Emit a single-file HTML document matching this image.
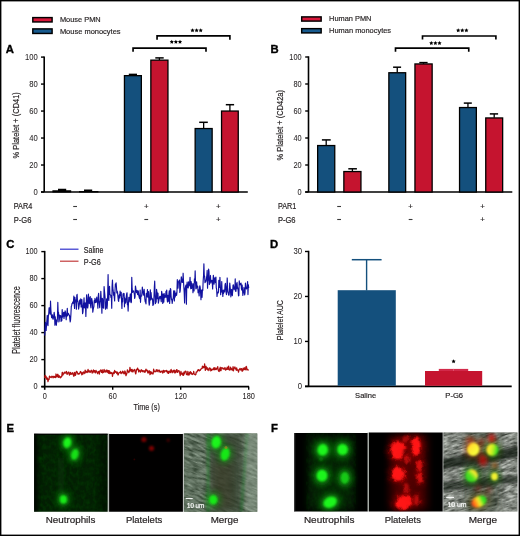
<!DOCTYPE html>
<html><head><meta charset="utf-8"><style>
html,body{margin:0;padding:0;background:#fff;}
body{width:520px;height:536px;overflow:hidden;}
svg{display:block;will-change:transform;}
text{font-family:"Liberation Sans", sans-serif;}
</style></head><body>
<svg width="520" height="536" viewBox="0 0 520 536" font-family='"Liberation Sans", sans-serif'>
<rect x="0" y="0" width="520" height="536" fill="#fff"/>
<text x="5.8" y="53.1" font-size="11.3" text-anchor="start" font-weight="bold" fill="#000" stroke="#000" stroke-width="0.35" >A</text>
<text x="270.4" y="53.1" font-size="11.3" text-anchor="start" font-weight="bold" fill="#000" stroke="#000" stroke-width="0.35" >B</text>
<text x="6.2" y="248.0" font-size="11.3" text-anchor="start" font-weight="bold" fill="#000" stroke="#000" stroke-width="0.35" >C</text>
<text x="270" y="247.8" font-size="11.3" text-anchor="start" font-weight="bold" fill="#000" stroke="#000" stroke-width="0.35" >D</text>
<text x="6.5" y="432.2" font-size="11.3" text-anchor="start" font-weight="bold" fill="#000" stroke="#000" stroke-width="0.35" >E</text>
<text x="270.9" y="432.2" font-size="11.3" text-anchor="start" font-weight="bold" fill="#000" stroke="#000" stroke-width="0.35" >F</text>
<line x1="44.2" y1="56.39999999999999" x2="44.2" y2="192.0" stroke="#000" stroke-width="1.6"/>
<line x1="41.0" y1="192.0" x2="44.2" y2="192.0" stroke="#000" stroke-width="1.4"/>
<text x="37.8" y="194.55" font-size="8.8" text-anchor="end" textLength="4.25" lengthAdjust="spacingAndGlyphs" fill="#231f20" stroke="#231f20" stroke-width="0.05" >0</text>
<line x1="41.0" y1="165.02" x2="44.2" y2="165.02" stroke="#000" stroke-width="1.4"/>
<text x="37.8" y="167.57000000000002" font-size="8.8" text-anchor="end" textLength="8.5" lengthAdjust="spacingAndGlyphs" fill="#231f20" stroke="#231f20" stroke-width="0.05" >20</text>
<line x1="41.0" y1="138.04" x2="44.2" y2="138.04" stroke="#000" stroke-width="1.4"/>
<text x="37.8" y="140.59" font-size="8.8" text-anchor="end" textLength="8.5" lengthAdjust="spacingAndGlyphs" fill="#231f20" stroke="#231f20" stroke-width="0.05" >40</text>
<line x1="41.0" y1="111.06" x2="44.2" y2="111.06" stroke="#000" stroke-width="1.4"/>
<text x="37.8" y="113.61" font-size="8.8" text-anchor="end" textLength="8.5" lengthAdjust="spacingAndGlyphs" fill="#231f20" stroke="#231f20" stroke-width="0.05" >60</text>
<line x1="41.0" y1="84.08" x2="44.2" y2="84.08" stroke="#000" stroke-width="1.4"/>
<text x="37.8" y="86.63" font-size="8.8" text-anchor="end" textLength="8.5" lengthAdjust="spacingAndGlyphs" fill="#231f20" stroke="#231f20" stroke-width="0.05" >80</text>
<line x1="41.0" y1="57.099999999999994" x2="44.2" y2="57.099999999999994" stroke="#000" stroke-width="1.4"/>
<text x="37.8" y="59.64999999999999" font-size="8.8" text-anchor="end" textLength="12.75" lengthAdjust="spacingAndGlyphs" fill="#231f20" stroke="#231f20" stroke-width="0.05" >100</text>
<line x1="41.0" y1="192.0" x2="247.8" y2="192.0" stroke="#000" stroke-width="1.6"/>
<line x1="132.9" y1="75.5" x2="132.9" y2="74.4" stroke="#000" stroke-width="1.3"/>
<line x1="128.8" y1="74.4" x2="137.0" y2="74.4" stroke="#000" stroke-width="1.5"/>
<rect x="124.45" y="75.65" width="16.90" height="116.35" fill="#14507d" stroke="#000" stroke-width="1.3"/>
<line x1="159.39999999999998" y1="60.0" x2="159.39999999999998" y2="57.9" stroke="#000" stroke-width="1.3"/>
<line x1="155.3" y1="57.9" x2="163.7" y2="57.9" stroke="#000" stroke-width="1.5"/>
<rect x="150.85" y="60.15" width="17.10" height="131.85" fill="#c5142f" stroke="#000" stroke-width="1.3"/>
<line x1="203.65" y1="128.4" x2="203.65" y2="122.3" stroke="#000" stroke-width="1.3"/>
<line x1="199.2" y1="122.3" x2="207.8" y2="122.3" stroke="#000" stroke-width="1.5"/>
<rect x="195.15" y="128.55" width="17.00" height="63.45" fill="#14507d" stroke="#000" stroke-width="1.3"/>
<line x1="229.9" y1="110.9" x2="229.9" y2="104.7" stroke="#000" stroke-width="1.3"/>
<line x1="225.8" y1="104.7" x2="234.1" y2="104.7" stroke="#000" stroke-width="1.5"/>
<rect x="221.55" y="111.05" width="16.70" height="80.95" fill="#c5142f" stroke="#000" stroke-width="1.3"/>
<path d="M52.4 192.4 V190.2 H58.0 V188.8 H66.2 V190.2 H71.2 V192.4 Z" fill="#000"/>
<path d="M79.0 192.4 V190.9 H84.0 V189.6 H92.2 V190.9 H98.4 V192.4 Z" fill="#000"/>
<rect x="32.8" y="17.6" width="19.3" height="4.35" fill="#d8173a" stroke="#000" stroke-width="1.45"/>
<rect x="32.8" y="28.9" width="19.3" height="4.55" fill="#175a8e" stroke="#000" stroke-width="1.45"/>
<text x="59.9" y="22.2" font-size="7.8" text-anchor="start" textLength="40.8" lengthAdjust="spacingAndGlyphs" fill="#231f20" stroke="#231f20" stroke-width="0.18" >Mouse PMN</text>
<text x="59.9" y="33.9" font-size="7.8" text-anchor="start" textLength="60.7" lengthAdjust="spacingAndGlyphs" fill="#231f20" stroke="#231f20" stroke-width="0.18" >Mouse monocytes</text>
<path d="M133.05 51.7 V48.1 H206.0 V51.7" fill="none" stroke="#000" stroke-width="1.65" stroke-linejoin="miter"/>
<path d="M157.05 39.8 V35.9 H229.9 V39.8" fill="none" stroke="#000" stroke-width="1.65" stroke-linejoin="miter"/>
<polygon points="171.80,39.80 172.45,41.11 173.89,41.32 172.85,42.34 173.09,43.78 171.80,43.10 170.51,43.78 170.75,42.34 169.71,41.32 171.15,41.11" fill="#000"/>
<polygon points="175.90,39.80 176.55,41.11 177.99,41.32 176.95,42.34 177.19,43.78 175.90,43.10 174.61,43.78 174.85,42.34 173.81,41.32 175.25,41.11" fill="#000"/>
<polygon points="180.00,39.80 180.65,41.11 182.09,41.32 181.05,42.34 181.29,43.78 180.00,43.10 178.71,43.78 178.95,42.34 177.91,41.32 179.35,41.11" fill="#000"/>
<polygon points="192.50,28.20 193.15,29.51 194.59,29.72 193.55,30.74 193.79,32.18 192.50,31.50 191.21,32.18 191.45,30.74 190.41,29.72 191.85,29.51" fill="#000"/>
<polygon points="196.60,28.20 197.25,29.51 198.69,29.72 197.65,30.74 197.89,32.18 196.60,31.50 195.31,32.18 195.55,30.74 194.51,29.72 195.95,29.51" fill="#000"/>
<polygon points="200.70,28.20 201.35,29.51 202.79,29.72 201.75,30.74 201.99,32.18 200.70,31.50 199.41,32.18 199.65,30.74 198.61,29.72 200.05,29.51" fill="#000"/>
<text transform="translate(18.9,125.3) rotate(-90)" font-size="9.1" text-anchor="middle" textLength="66.3" lengthAdjust="spacingAndGlyphs" fill="#231f20" stroke="#231f20" stroke-width="0.18">% Platelet + (CD41)</text>
<text x="13.8" y="209.0" font-size="8.4" text-anchor="start" textLength="18.4" lengthAdjust="spacingAndGlyphs" fill="#231f20" stroke="#231f20" stroke-width="0.18" >PAR4</text>
<text x="13.8" y="222.8" font-size="8.4" text-anchor="start" textLength="17.7" lengthAdjust="spacingAndGlyphs" fill="#231f20" stroke="#231f20" stroke-width="0.18" >P-G6</text>
<line x1="73.19999999999999" y1="206.5" x2="77.0" y2="206.5" stroke="#3a3a3a" stroke-width="1.1"/>
<line x1="73.19999999999999" y1="219.5" x2="77.0" y2="219.5" stroke="#3a3a3a" stroke-width="1.1"/>
<text x="146.25" y="209.4" font-size="7.8" text-anchor="middle" fill="#231f20" stroke="#231f20" stroke-width="0.18" >+</text>
<line x1="144.35" y1="219.5" x2="148.15" y2="219.5" stroke="#3a3a3a" stroke-width="1.1"/>
<text x="218.3" y="209.4" font-size="7.8" text-anchor="middle" fill="#231f20" stroke="#231f20" stroke-width="0.18" >+</text>
<text x="218.3" y="222.4" font-size="7.8" text-anchor="middle" fill="#231f20" stroke="#231f20" stroke-width="0.18" >+</text>
<line x1="308.5" y1="56.3" x2="308.5" y2="192.0" stroke="#000" stroke-width="1.6"/>
<line x1="305.2" y1="192.0" x2="308.5" y2="192.0" stroke="#000" stroke-width="1.4"/>
<text x="301.6" y="194.55" font-size="8.8" text-anchor="end" textLength="4.1" lengthAdjust="spacingAndGlyphs" fill="#231f20" stroke="#231f20" stroke-width="0.05" >0</text>
<line x1="305.2" y1="165.0" x2="308.5" y2="165.0" stroke="#000" stroke-width="1.4"/>
<text x="301.6" y="167.55" font-size="8.8" text-anchor="end" textLength="8.2" lengthAdjust="spacingAndGlyphs" fill="#231f20" stroke="#231f20" stroke-width="0.05" >20</text>
<line x1="305.2" y1="138.0" x2="308.5" y2="138.0" stroke="#000" stroke-width="1.4"/>
<text x="301.6" y="140.55" font-size="8.8" text-anchor="end" textLength="8.2" lengthAdjust="spacingAndGlyphs" fill="#231f20" stroke="#231f20" stroke-width="0.05" >40</text>
<line x1="305.2" y1="111.0" x2="308.5" y2="111.0" stroke="#000" stroke-width="1.4"/>
<text x="301.6" y="113.55" font-size="8.8" text-anchor="end" textLength="8.2" lengthAdjust="spacingAndGlyphs" fill="#231f20" stroke="#231f20" stroke-width="0.05" >60</text>
<line x1="305.2" y1="84.0" x2="308.5" y2="84.0" stroke="#000" stroke-width="1.4"/>
<text x="301.6" y="86.55" font-size="8.8" text-anchor="end" textLength="8.2" lengthAdjust="spacingAndGlyphs" fill="#231f20" stroke="#231f20" stroke-width="0.05" >80</text>
<line x1="305.2" y1="57.0" x2="308.5" y2="57.0" stroke="#000" stroke-width="1.4"/>
<text x="301.6" y="59.55" font-size="8.8" text-anchor="end" textLength="12.3" lengthAdjust="spacingAndGlyphs" fill="#231f20" stroke="#231f20" stroke-width="0.05" >100</text>
<line x1="305.2" y1="192.0" x2="512.3" y2="192.0" stroke="#000" stroke-width="1.6"/>
<line x1="326.2" y1="145.4" x2="326.2" y2="139.9" stroke="#000" stroke-width="1.3"/>
<line x1="321.9" y1="139.9" x2="330.7" y2="139.9" stroke="#000" stroke-width="1.5"/>
<rect x="317.65" y="145.55" width="17.10" height="46.45" fill="#14507d" stroke="#000" stroke-width="1.3"/>
<line x1="352.4" y1="171.4" x2="352.4" y2="168.8" stroke="#000" stroke-width="1.3"/>
<line x1="348.3" y1="168.8" x2="356.9" y2="168.8" stroke="#000" stroke-width="1.5"/>
<rect x="343.85" y="171.55" width="17.10" height="20.45" fill="#c5142f" stroke="#000" stroke-width="1.3"/>
<line x1="397.25" y1="72.6" x2="397.25" y2="67.2" stroke="#000" stroke-width="1.3"/>
<line x1="393.1" y1="67.2" x2="401.1" y2="67.2" stroke="#000" stroke-width="1.5"/>
<rect x="388.85" y="72.75" width="16.80" height="119.25" fill="#14507d" stroke="#000" stroke-width="1.3"/>
<line x1="423.55" y1="63.8" x2="423.55" y2="62.6" stroke="#000" stroke-width="1.3"/>
<line x1="419.3" y1="62.6" x2="427.6" y2="62.6" stroke="#000" stroke-width="1.5"/>
<rect x="414.95" y="63.95" width="17.20" height="128.05" fill="#c5142f" stroke="#000" stroke-width="1.3"/>
<line x1="467.95" y1="107.4" x2="467.95" y2="103.1" stroke="#000" stroke-width="1.3"/>
<line x1="463.8" y1="103.1" x2="471.8" y2="103.1" stroke="#000" stroke-width="1.5"/>
<rect x="459.55" y="107.55" width="16.80" height="84.45" fill="#14507d" stroke="#000" stroke-width="1.3"/>
<line x1="494.20000000000005" y1="117.8" x2="494.20000000000005" y2="113.9" stroke="#000" stroke-width="1.3"/>
<line x1="489.8" y1="113.9" x2="498.1" y2="113.9" stroke="#000" stroke-width="1.5"/>
<rect x="485.75" y="117.95" width="16.90" height="74.05" fill="#c5142f" stroke="#000" stroke-width="1.3"/>
<rect x="301.7" y="16.9" width="19.45" height="4.2" fill="#d8173a" stroke="#000" stroke-width="1.45"/>
<rect x="301.7" y="28.65" width="19.45" height="4.25" fill="#175a8e" stroke="#000" stroke-width="1.45"/>
<text x="329.1" y="21.3" font-size="7.8" text-anchor="start" textLength="42.3" lengthAdjust="spacingAndGlyphs" fill="#231f20" stroke="#231f20" stroke-width="0.18" >Human PMN</text>
<text x="329.1" y="33.0" font-size="7.8" text-anchor="start" textLength="62" lengthAdjust="spacingAndGlyphs" fill="#231f20" stroke="#231f20" stroke-width="0.18" >Human monocytes</text>
<path d="M395.5 51.7 V48.05 H468.75 V51.7" fill="none" stroke="#000" stroke-width="1.65" stroke-linejoin="miter"/>
<path d="M422.5 39.6 V36.0 H495.9 V39.6" fill="none" stroke="#000" stroke-width="1.65" stroke-linejoin="miter"/>
<polygon points="431.30,40.90 431.95,42.21 433.39,42.42 432.35,43.44 432.59,44.88 431.30,44.20 430.01,44.88 430.25,43.44 429.21,42.42 430.65,42.21" fill="#000"/>
<polygon points="435.40,40.90 436.05,42.21 437.49,42.42 436.45,43.44 436.69,44.88 435.40,44.20 434.11,44.88 434.35,43.44 433.31,42.42 434.75,42.21" fill="#000"/>
<polygon points="439.50,40.90 440.15,42.21 441.59,42.42 440.55,43.44 440.79,44.88 439.50,44.20 438.21,44.88 438.45,43.44 437.41,42.42 438.85,42.21" fill="#000"/>
<polygon points="458.20,28.30 458.85,29.61 460.29,29.82 459.25,30.84 459.49,32.28 458.20,31.60 456.91,32.28 457.15,30.84 456.11,29.82 457.55,29.61" fill="#000"/>
<polygon points="462.30,28.30 462.95,29.61 464.39,29.82 463.35,30.84 463.59,32.28 462.30,31.60 461.01,32.28 461.25,30.84 460.21,29.82 461.65,29.61" fill="#000"/>
<polygon points="466.40,28.30 467.05,29.61 468.49,29.82 467.45,30.84 467.69,32.28 466.40,31.60 465.11,32.28 465.35,30.84 464.31,29.82 465.75,29.61" fill="#000"/>
<text transform="translate(282.6,125.2) rotate(-90)" font-size="9.1" text-anchor="middle" textLength="70.4" lengthAdjust="spacingAndGlyphs" fill="#231f20" stroke="#231f20" stroke-width="0.18">% Platelet + (CD42a)</text>
<text x="277.9" y="209.0" font-size="8.4" text-anchor="start" textLength="18.3" lengthAdjust="spacingAndGlyphs" fill="#231f20" stroke="#231f20" stroke-width="0.18" >PAR1</text>
<text x="277.9" y="222.8" font-size="8.4" text-anchor="start" textLength="17.7" lengthAdjust="spacingAndGlyphs" fill="#231f20" stroke="#231f20" stroke-width="0.18" >P-G6</text>
<line x1="337.20000000000005" y1="206.5" x2="341.0" y2="206.5" stroke="#3a3a3a" stroke-width="1.1"/>
<line x1="337.20000000000005" y1="219.5" x2="341.0" y2="219.5" stroke="#3a3a3a" stroke-width="1.1"/>
<text x="410.6" y="209.4" font-size="7.8" text-anchor="middle" fill="#231f20" stroke="#231f20" stroke-width="0.18" >+</text>
<line x1="408.70000000000005" y1="219.5" x2="412.5" y2="219.5" stroke="#3a3a3a" stroke-width="1.1"/>
<text x="482.6" y="209.4" font-size="7.8" text-anchor="middle" fill="#231f20" stroke="#231f20" stroke-width="0.18" >+</text>
<text x="482.6" y="222.4" font-size="7.8" text-anchor="middle" fill="#231f20" stroke="#231f20" stroke-width="0.18" >+</text>
<line x1="44.7" y1="250.90000000000003" x2="44.7" y2="389.8" stroke="#000" stroke-width="1.6"/>
<line x1="41.300000000000004" y1="386.6" x2="44.7" y2="386.6" stroke="#000" stroke-width="1.4"/>
<text x="37.7" y="389.15000000000003" font-size="8.8" text-anchor="end" textLength="4.1" lengthAdjust="spacingAndGlyphs" fill="#231f20" stroke="#231f20" stroke-width="0.05" >0</text>
<line x1="41.300000000000004" y1="359.6" x2="44.7" y2="359.6" stroke="#000" stroke-width="1.4"/>
<text x="37.7" y="362.15000000000003" font-size="8.8" text-anchor="end" textLength="8.2" lengthAdjust="spacingAndGlyphs" fill="#231f20" stroke="#231f20" stroke-width="0.05" >20</text>
<line x1="41.300000000000004" y1="332.6" x2="44.7" y2="332.6" stroke="#000" stroke-width="1.4"/>
<text x="37.7" y="335.15000000000003" font-size="8.8" text-anchor="end" textLength="8.2" lengthAdjust="spacingAndGlyphs" fill="#231f20" stroke="#231f20" stroke-width="0.05" >40</text>
<line x1="41.300000000000004" y1="305.6" x2="44.7" y2="305.6" stroke="#000" stroke-width="1.4"/>
<text x="37.7" y="308.15000000000003" font-size="8.8" text-anchor="end" textLength="8.2" lengthAdjust="spacingAndGlyphs" fill="#231f20" stroke="#231f20" stroke-width="0.05" >60</text>
<line x1="41.300000000000004" y1="278.6" x2="44.7" y2="278.6" stroke="#000" stroke-width="1.4"/>
<text x="37.7" y="281.15000000000003" font-size="8.8" text-anchor="end" textLength="8.2" lengthAdjust="spacingAndGlyphs" fill="#231f20" stroke="#231f20" stroke-width="0.05" >80</text>
<line x1="41.300000000000004" y1="251.60000000000002" x2="44.7" y2="251.60000000000002" stroke="#000" stroke-width="1.4"/>
<text x="37.7" y="254.15000000000003" font-size="8.8" text-anchor="end" textLength="12.3" lengthAdjust="spacingAndGlyphs" fill="#231f20" stroke="#231f20" stroke-width="0.05" >100</text>
<line x1="41.300000000000004" y1="386.6" x2="249.0" y2="386.6" stroke="#000" stroke-width="1.6"/>
<line x1="112.7" y1="386.6" x2="112.7" y2="389.8" stroke="#000" stroke-width="1.4"/>
<line x1="180.7" y1="386.6" x2="180.7" y2="389.8" stroke="#000" stroke-width="1.4"/>
<line x1="248.7" y1="386.6" x2="248.7" y2="389.8" stroke="#000" stroke-width="1.4"/>
<text x="44.7" y="398.5" font-size="8.8" text-anchor="middle" textLength="4.1" lengthAdjust="spacingAndGlyphs" fill="#231f20" stroke="#231f20" stroke-width="0.05" >0</text>
<text x="112.7" y="398.5" font-size="8.8" text-anchor="middle" textLength="8.2" lengthAdjust="spacingAndGlyphs" fill="#231f20" stroke="#231f20" stroke-width="0.05" >60</text>
<text x="180.7" y="398.5" font-size="8.8" text-anchor="middle" textLength="12.3" lengthAdjust="spacingAndGlyphs" fill="#231f20" stroke="#231f20" stroke-width="0.05" >120</text>
<text x="248.7" y="398.5" font-size="8.8" text-anchor="middle" textLength="12.3" lengthAdjust="spacingAndGlyphs" fill="#231f20" stroke="#231f20" stroke-width="0.05" >180</text>
<text x="146.65" y="409.6" font-size="9" text-anchor="middle" textLength="26.3" lengthAdjust="spacingAndGlyphs" fill="#231f20" stroke="#231f20" stroke-width="0.18" >Time (s)</text>
<text transform="translate(19.6,320.0) rotate(-90)" font-size="10" text-anchor="middle" textLength="67.6" lengthAdjust="spacingAndGlyphs" fill="#231f20" stroke="#231f20" stroke-width="0.18">Platelet fluorescence</text>
<line x1="60" y1="249.2" x2="78.5" y2="249.2" stroke="#3333cc" stroke-width="1.2"/>
<line x1="60" y1="261.2" x2="78.5" y2="261.2" stroke="#c23b3b" stroke-width="1.2"/>
<text x="83.8" y="252.6" font-size="8.3" text-anchor="start" textLength="19.6" lengthAdjust="spacingAndGlyphs" fill="#231f20" stroke="#231f20" stroke-width="0.18" >Saline</text>
<text x="83.8" y="264.6" font-size="8.3" text-anchor="start" textLength="17" lengthAdjust="spacingAndGlyphs" fill="#231f20" stroke="#231f20" stroke-width="0.18" >P-G6</text>
<path d="M44.70 335.52 L45.06 328.41 L45.43 322.43 L45.79 326.54 L46.16 330.51 L46.52 325.02 L46.89 320.23 L47.25 315.22 L47.61 323.61 L47.98 325.75 L48.34 316.49 L48.71 314.05 L49.07 307.72 L49.44 307.84 L49.80 312.45 L50.16 314.17 L50.53 301.17 L50.89 309.94 L51.26 314.39 L51.62 317.69 L51.99 314.71 L52.35 314.80 L52.71 318.29 L53.08 319.26 L53.44 317.88 L53.81 315.13 L54.17 312.25 L54.54 315.25 L54.90 325.13 L55.26 316.71 L55.63 323.90 L55.99 320.31 L56.36 325.19 L56.72 319.85 L57.09 321.82 L57.45 317.83 L57.81 302.44 L58.18 313.18 L58.54 312.29 L58.91 321.94 L59.27 320.06 L59.64 315.11 L60.00 317.07 L60.36 315.51 L60.73 316.25 L61.09 321.54 L61.46 315.90 L61.82 320.50 L62.19 309.54 L62.55 317.14 L62.91 313.93 L63.28 316.09 L63.64 312.35 L64.01 318.34 L64.37 312.77 L64.74 316.23 L65.10 310.88 L65.46 312.18 L65.83 314.77 L66.19 319.76 L66.56 314.12 L66.92 313.79 L67.29 308.28 L67.65 315.87 L68.01 313.85 L68.38 313.44 L68.74 314.32 L69.11 314.91 L69.47 315.18 L69.84 318.83 L70.20 321.81 L70.56 319.85 L70.93 313.95 L71.29 306.45 L71.66 305.44 L72.02 303.57 L72.39 303.06 L72.75 302.06 L73.11 303.29 L73.48 301.37 L73.84 296.19 L74.21 304.28 L74.57 308.39 L74.94 297.44 L75.30 302.03 L75.66 300.07 L76.03 299.93 L76.39 309.11 L76.76 295.48 L77.12 294.41 L77.49 301.43 L77.85 300.90 L78.21 303.61 L78.58 309.06 L78.94 307.15 L79.31 304.35 L79.67 300.10 L80.04 300.70 L80.40 303.86 L80.76 298.86 L81.13 307.07 L81.49 302.40 L81.86 299.54 L82.22 305.12 L82.59 313.68 L82.95 312.18 L83.31 306.49 L83.68 303.44 L84.04 297.85 L84.41 307.88 L84.77 306.28 L85.14 302.82 L85.50 305.49 L85.86 316.44 L86.23 305.15 L86.59 294.85 L86.96 297.77 L87.32 307.46 L87.69 308.05 L88.05 305.32 L88.41 294.09 L88.78 299.31 L89.14 303.19 L89.51 297.73 L89.87 303.61 L90.24 296.46 L90.60 306.00 L90.96 307.90 L91.33 302.98 L91.69 298.28 L92.06 300.40 L92.42 302.44 L92.79 312.21 L93.15 309.60 L93.51 307.89 L93.88 306.57 L94.24 300.57 L94.61 302.62 L94.97 298.26 L95.34 300.18 L95.70 302.67 L96.06 301.34 L96.43 299.52 L96.79 297.00 L97.16 302.38 L97.52 302.87 L97.89 308.20 L98.25 296.18 L98.61 293.28 L98.98 299.89 L99.34 303.25 L99.71 307.73 L100.07 302.62 L100.44 300.93 L100.80 291.35 L101.16 297.36 L101.53 303.79 L101.89 313.21 L102.26 298.23 L102.62 299.21 L102.99 307.64 L103.35 301.84 L103.71 308.18 L104.08 286.61 L104.44 290.85 L104.81 294.51 L105.17 298.92 L105.54 309.14 L105.90 302.84 L106.26 307.39 L106.63 298.76 L106.99 308.60 L107.36 304.78 L107.72 292.92 L108.09 274.55 L108.45 296.63 L108.81 300.38 L109.18 289.52 L109.54 286.33 L109.91 293.95 L110.27 294.90 L110.64 295.18 L111.00 297.54 L111.36 295.91 L111.73 308.30 L112.09 286.33 L112.46 279.98 L112.82 287.92 L113.19 290.52 L113.55 295.19 L113.91 292.65 L114.28 297.35 L114.64 300.89 L115.01 290.59 L115.37 284.09 L115.74 284.91 L116.10 282.88 L116.46 287.23 L116.83 292.99 L117.19 291.03 L117.56 292.55 L117.92 296.39 L118.29 300.21 L118.65 301.41 L119.01 295.98 L119.38 294.55 L119.74 297.90 L120.11 291.08 L120.47 295.68 L120.84 295.40 L121.20 292.22 L121.56 300.63 L121.93 308.42 L122.29 298.27 L122.66 301.84 L123.02 293.73 L123.39 295.76 L123.75 293.30 L124.11 293.68 L124.48 306.85 L124.84 297.95 L125.21 301.67 L125.57 303.17 L125.94 302.14 L126.30 296.31 L126.66 294.03 L127.03 292.76 L127.39 304.64 L127.76 303.30 L128.12 311.09 L128.49 302.99 L128.85 297.34 L129.21 301.90 L129.58 298.64 L129.94 297.73 L130.31 293.89 L130.67 301.13 L131.04 302.74 L131.40 302.01 L131.76 277.25 L132.13 288.01 L132.49 292.38 L132.86 291.33 L133.22 291.13 L133.59 290.88 L133.95 292.69 L134.31 293.81 L134.68 298.38 L135.04 296.93 L135.41 285.97 L135.77 287.80 L136.14 290.51 L136.50 292.61 L136.86 291.97 L137.23 290.44 L137.59 294.57 L137.96 291.94 L138.32 290.95 L138.69 295.19 L139.05 296.65 L139.41 298.05 L139.78 298.77 L140.14 290.02 L140.51 302.31 L140.87 296.39 L141.24 296.19 L141.60 296.17 L141.96 292.87 L142.33 287.15 L142.69 290.27 L143.06 292.19 L143.42 295.08 L143.79 294.12 L144.15 289.36 L144.51 294.23 L144.88 299.45 L145.24 301.86 L145.61 302.16 L145.97 303.86 L146.34 293.24 L146.70 293.78 L147.06 296.55 L147.43 289.60 L147.79 297.25 L148.16 293.08 L148.52 291.62 L148.89 301.97 L149.25 305.14 L149.61 303.22 L149.98 294.23 L150.34 289.76 L150.71 300.02 L151.07 292.66 L151.44 297.04 L151.80 298.41 L152.16 299.56 L152.53 298.88 L152.89 305.54 L153.26 303.81 L153.62 304.38 L153.99 296.64 L154.35 286.99 L154.71 281.16 L155.08 293.51 L155.44 303.58 L155.81 300.58 L156.17 302.14 L156.54 289.21 L156.90 291.82 L157.26 298.58 L157.63 292.99 L157.99 293.16 L158.36 303.14 L158.72 301.13 L159.09 299.20 L159.45 297.45 L159.81 296.41 L160.18 298.28 L160.54 296.42 L160.91 299.44 L161.27 301.79 L161.64 291.43 L162.00 293.64 L162.36 293.96 L162.73 303.40 L163.09 299.69 L163.46 294.06 L163.82 302.08 L164.19 293.53 L164.55 297.80 L164.91 295.46 L165.28 297.23 L165.64 296.16 L166.01 291.34 L166.37 297.28 L166.74 290.04 L167.10 298.65 L167.46 301.94 L167.83 295.39 L168.19 301.60 L168.56 300.28 L168.92 294.04 L169.29 290.78 L169.65 303.53 L170.01 296.89 L170.38 288.59 L170.74 289.27 L171.11 296.08 L171.47 299.79 L171.84 299.52 L172.20 303.38 L172.56 300.48 L172.93 298.95 L173.29 297.69 L173.66 290.73 L174.02 294.64 L174.39 300.97 L174.75 290.86 L175.11 297.09 L175.48 295.60 L175.84 293.23 L176.21 293.00 L176.57 295.47 L176.94 292.26 L177.30 279.65 L177.66 288.19 L178.03 288.10 L178.39 281.81 L178.76 281.41 L179.12 280.90 L179.49 280.00 L179.85 292.41 L180.21 290.76 L180.58 285.41 L180.94 281.80 L181.31 276.76 L181.67 278.73 L182.04 282.27 L182.40 281.75 L182.76 282.44 L183.13 273.20 L183.49 281.08 L183.86 287.16 L184.22 292.67 L184.59 302.90 L184.95 289.61 L185.31 287.48 L185.68 286.05 L186.04 285.02 L186.41 304.25 L186.77 285.80 L187.14 282.19 L187.50 287.76 L187.86 286.06 L188.23 287.99 L188.59 281.86 L188.96 286.02 L189.32 285.10 L189.69 282.49 L190.05 277.33 L190.41 285.63 L190.78 288.80 L191.14 281.69 L191.51 288.38 L191.87 283.24 L192.24 286.39 L192.60 285.20 L192.96 292.72 L193.33 283.73 L193.69 287.35 L194.06 290.88 L194.42 278.88 L194.79 282.16 L195.15 270.91 L195.51 282.18 L195.88 288.83 L196.24 288.74 L196.61 281.83 L196.97 287.25 L197.34 286.69 L197.70 286.21 L198.06 292.62 L198.43 289.77 L198.79 291.82 L199.16 295.84 L199.52 287.33 L199.89 285.72 L200.25 287.95 L200.61 293.13 L200.98 299.73 L201.34 290.27 L201.71 290.11 L202.07 297.34 L202.44 289.65 L202.80 290.43 L203.16 280.77 L203.53 276.17 L203.89 263.75 L204.26 275.48 L204.62 276.17 L204.99 282.69 L205.35 281.48 L205.71 281.92 L206.08 280.74 L206.44 278.10 L206.81 275.75 L207.17 270.42 L207.54 288.15 L207.90 279.88 L208.26 280.18 L208.63 268.96 L208.99 271.79 L209.36 284.55 L209.72 278.98 L210.09 281.59 L210.45 275.45 L210.81 283.06 L211.18 281.00 L211.54 280.56 L211.91 280.30 L212.27 282.50 L212.64 288.95 L213.00 280.38 L213.36 275.37 L213.73 278.80 L214.09 284.23 L214.46 280.29 L214.82 277.83 L215.19 281.46 L215.55 282.56 L215.91 277.12 L216.28 287.85 L216.64 289.26 L217.01 296.51 L217.37 292.94 L217.74 292.11 L218.10 292.93 L218.46 292.01 L218.83 280.36 L219.19 286.07 L219.56 287.47 L219.92 277.33 L220.29 284.71 L220.65 294.66 L221.01 287.90 L221.38 292.07 L221.74 281.56 L222.11 291.71 L222.47 291.75 L222.84 296.53 L223.20 290.20 L223.56 293.47 L223.93 290.14 L224.29 290.63 L224.66 291.92 L225.02 285.22 L225.39 283.30 L225.75 286.79 L226.11 292.30 L226.48 294.72 L226.84 289.31 L227.21 277.95 L227.57 287.63 L227.94 292.04 L228.30 292.97 L228.66 295.08 L229.03 295.16 L229.39 291.67 L229.76 283.11 L230.12 287.13 L230.49 290.69 L230.85 296.83 L231.21 290.29 L231.58 289.44 L231.94 294.69 L232.31 295.64 L232.67 291.13 L233.04 284.95 L233.40 284.87 L233.76 286.79 L234.13 289.80 L234.49 287.76 L234.86 288.68 L235.22 278.93 L235.59 291.19 L235.95 291.36 L236.31 283.91 L236.68 288.73 L237.04 282.42 L237.41 287.27 L237.77 287.87 L238.14 290.43 L238.50 295.83 L238.86 295.58 L239.23 280.89 L239.59 283.70 L239.96 284.73 L240.32 283.45 L240.69 284.84 L241.05 283.18 L241.41 288.61 L241.78 290.05 L242.14 284.95 L242.51 289.55 L242.87 295.44 L243.24 292.14 L243.60 292.62 L243.96 287.45 L244.33 292.03 L244.69 294.98 L245.06 292.53 L245.42 283.14 L245.79 287.69 L246.15 288.10 L246.51 288.92 L246.88 287.87 L247.24 284.65 L247.61 281.55 L247.97 294.58 L248.34 284.70 L248.70 288.01" fill="none" stroke="#1212a0" stroke-width="1.15" stroke-linejoin="round"/>
<path d="M44.70 378.17 L45.06 375.48 L45.43 377.55 L45.79 375.99 L46.16 376.68 L46.52 379.14 L46.89 378.34 L47.25 377.94 L47.61 378.85 L47.98 381.60 L48.34 380.00 L48.71 378.99 L49.07 379.38 L49.44 376.02 L49.80 376.94 L50.16 377.08 L50.53 376.90 L50.89 377.43 L51.26 377.57 L51.62 376.67 L51.99 376.15 L52.35 376.87 L52.71 376.63 L53.08 377.95 L53.44 376.27 L53.81 377.13 L54.17 376.34 L54.54 377.31 L54.90 377.16 L55.26 376.32 L55.63 377.60 L55.99 374.00 L56.36 375.62 L56.72 376.13 L57.09 376.99 L57.45 374.73 L57.81 374.26 L58.18 375.29 L58.54 377.39 L58.91 377.08 L59.27 375.76 L59.64 376.58 L60.00 377.54 L60.36 377.82 L60.73 377.45 L61.09 376.48 L61.46 376.90 L61.82 376.17 L62.19 372.60 L62.55 372.36 L62.91 375.05 L63.28 374.09 L63.64 373.81 L64.01 373.69 L64.37 372.11 L64.74 372.84 L65.10 372.79 L65.46 373.05 L65.83 372.90 L66.19 371.44 L66.56 371.63 L66.92 374.05 L67.29 373.88 L67.65 374.20 L68.01 372.55 L68.38 372.69 L68.74 372.02 L69.11 372.84 L69.47 375.08 L69.84 373.21 L70.20 372.89 L70.56 372.49 L70.93 374.32 L71.29 373.38 L71.66 373.93 L72.02 374.09 L72.39 373.02 L72.75 372.69 L73.11 373.94 L73.48 375.20 L73.84 376.40 L74.21 374.71 L74.57 372.37 L74.94 372.94 L75.30 375.48 L75.66 374.75 L76.03 373.14 L76.39 371.31 L76.76 371.30 L77.12 372.16 L77.49 372.61 L77.85 374.10 L78.21 373.89 L78.58 373.70 L78.94 374.11 L79.31 373.34 L79.67 373.59 L80.04 372.88 L80.40 371.49 L80.76 371.82 L81.13 372.26 L81.49 373.11 L81.86 374.74 L82.22 373.72 L82.59 372.70 L82.95 374.07 L83.31 371.99 L83.68 372.88 L84.04 372.23 L84.41 372.64 L84.77 373.61 L85.14 370.16 L85.50 372.46 L85.86 370.97 L86.23 372.12 L86.59 371.56 L86.96 372.56 L87.32 372.44 L87.69 370.96 L88.05 369.41 L88.41 371.96 L88.78 371.80 L89.14 370.74 L89.51 372.13 L89.87 371.10 L90.24 372.40 L90.60 371.29 L90.96 371.14 L91.33 370.26 L91.69 370.91 L92.06 372.79 L92.42 371.34 L92.79 372.82 L93.15 371.26 L93.51 369.97 L93.88 370.57 L94.24 371.99 L94.61 370.54 L94.97 371.20 L95.34 372.93 L95.70 372.49 L96.06 370.44 L96.43 371.68 L96.79 371.60 L97.16 372.07 L97.52 373.67 L97.89 372.88 L98.25 371.70 L98.61 371.51 L98.98 371.87 L99.34 374.09 L99.71 371.13 L100.07 370.79 L100.44 370.36 L100.80 369.93 L101.16 371.68 L101.53 372.38 L101.89 371.60 L102.26 369.90 L102.62 372.97 L102.99 372.18 L103.35 372.37 L103.71 370.95 L104.08 369.45 L104.44 370.80 L104.81 372.12 L105.17 371.02 L105.54 370.95 L105.90 372.19 L106.26 370.13 L106.63 371.13 L106.99 370.23 L107.36 372.22 L107.72 370.31 L108.09 372.58 L108.45 370.67 L108.81 373.29 L109.18 370.73 L109.54 371.96 L109.91 373.71 L110.27 372.90 L110.64 372.15 L111.00 373.45 L111.36 373.41 L111.73 372.68 L112.09 373.03 L112.46 376.37 L112.82 374.57 L113.19 373.08 L113.55 372.77 L113.91 371.91 L114.28 373.49 L114.64 370.46 L115.01 371.44 L115.37 372.27 L115.74 371.68 L116.10 371.64 L116.46 372.55 L116.83 373.61 L117.19 372.15 L117.56 372.36 L117.92 374.92 L118.29 374.84 L118.65 373.12 L119.01 372.99 L119.38 372.76 L119.74 372.31 L120.11 372.70 L120.47 371.27 L120.84 373.19 L121.20 373.56 L121.56 372.89 L121.93 372.23 L122.29 371.99 L122.66 371.16 L123.02 373.03 L123.39 371.82 L123.75 372.21 L124.11 373.96 L124.48 373.51 L124.84 370.97 L125.21 371.61 L125.57 373.16 L125.94 375.71 L126.30 374.68 L126.66 374.04 L127.03 372.81 L127.39 369.82 L127.76 370.41 L128.12 370.86 L128.49 372.14 L128.85 372.59 L129.21 371.46 L129.58 371.20 L129.94 367.37 L130.31 369.95 L130.67 370.96 L131.04 369.39 L131.40 370.07 L131.76 371.69 L132.13 369.47 L132.49 370.54 L132.86 371.97 L133.22 370.63 L133.59 370.05 L133.95 370.78 L134.31 369.89 L134.68 369.50 L135.04 371.24 L135.41 373.04 L135.77 373.95 L136.14 371.79 L136.50 369.68 L136.86 369.30 L137.23 368.78 L137.59 368.13 L137.96 369.94 L138.32 369.36 L138.69 371.99 L139.05 370.40 L139.41 370.25 L139.78 370.74 L140.14 371.27 L140.51 372.17 L140.87 371.10 L141.24 369.55 L141.60 370.88 L141.96 370.31 L142.33 371.45 L142.69 370.81 L143.06 371.98 L143.42 370.85 L143.79 371.17 L144.15 370.70 L144.51 371.56 L144.88 372.44 L145.24 371.80 L145.61 370.15 L145.97 369.08 L146.34 370.82 L146.70 370.14 L147.06 370.11 L147.43 370.58 L147.79 372.91 L148.16 371.68 L148.52 372.80 L148.89 370.91 L149.25 370.85 L149.61 371.11 L149.98 374.68 L150.34 372.44 L150.71 371.77 L151.07 373.80 L151.44 372.07 L151.80 372.61 L152.16 373.14 L152.53 373.77 L152.89 374.02 L153.26 373.26 L153.62 369.03 L153.99 370.67 L154.35 370.96 L154.71 371.77 L155.08 371.77 L155.44 371.50 L155.81 371.62 L156.17 369.90 L156.54 370.68 L156.90 369.74 L157.26 371.69 L157.63 370.08 L157.99 370.68 L158.36 370.16 L158.72 370.90 L159.09 372.01 L159.45 370.14 L159.81 371.40 L160.18 371.53 L160.54 372.36 L160.91 371.43 L161.27 371.79 L161.64 371.17 L162.00 370.92 L162.36 371.96 L162.73 373.05 L163.09 371.39 L163.46 370.37 L163.82 370.30 L164.19 372.27 L164.55 370.97 L164.91 370.82 L165.28 370.88 L165.64 370.74 L166.01 371.51 L166.37 371.16 L166.74 370.29 L167.10 371.57 L167.46 372.97 L167.83 371.95 L168.19 371.31 L168.56 373.33 L168.92 372.67 L169.29 371.11 L169.65 371.44 L170.01 371.27 L170.38 372.68 L170.74 370.77 L171.11 369.28 L171.47 370.94 L171.84 372.01 L172.20 372.80 L172.56 370.82 L172.93 371.07 L173.29 372.12 L173.66 370.27 L174.02 370.20 L174.39 370.35 L174.75 372.95 L175.11 371.94 L175.48 370.85 L175.84 372.52 L176.21 370.69 L176.57 369.60 L176.94 369.71 L177.30 371.63 L177.66 372.46 L178.03 371.10 L178.39 370.82 L178.76 370.67 L179.12 370.83 L179.49 372.47 L179.85 373.48 L180.21 375.53 L180.58 373.47 L180.94 371.26 L181.31 373.53 L181.67 374.23 L182.04 373.23 L182.40 373.23 L182.76 375.12 L183.13 374.99 L183.49 375.37 L183.86 372.11 L184.22 374.10 L184.59 373.01 L184.95 371.53 L185.31 371.12 L185.68 371.51 L186.04 371.41 L186.41 374.48 L186.77 374.45 L187.14 374.85 L187.50 374.51 L187.86 371.27 L188.23 374.94 L188.59 373.63 L188.96 375.18 L189.32 372.87 L189.69 372.23 L190.05 374.00 L190.41 371.74 L190.78 373.23 L191.14 372.35 L191.51 373.16 L191.87 374.35 L192.24 374.52 L192.60 374.29 L192.96 373.44 L193.33 373.72 L193.69 371.39 L194.06 373.46 L194.42 374.28 L194.79 374.53 L195.15 374.46 L195.51 374.95 L195.88 374.41 L196.24 371.99 L196.61 371.98 L196.97 372.02 L197.34 371.26 L197.70 370.06 L198.06 369.98 L198.43 369.58 L198.79 370.69 L199.16 370.49 L199.52 370.77 L199.89 369.91 L200.25 370.22 L200.61 369.62 L200.98 369.01 L201.34 368.66 L201.71 368.40 L202.07 368.35 L202.44 366.18 L202.80 367.10 L203.16 367.88 L203.53 366.60 L203.89 367.39 L204.26 367.40 L204.62 363.92 L204.99 368.02 L205.35 370.48 L205.71 367.66 L206.08 366.24 L206.44 368.96 L206.81 369.14 L207.17 367.59 L207.54 369.94 L207.90 369.50 L208.26 369.77 L208.63 368.82 L208.99 370.50 L209.36 367.95 L209.72 368.36 L210.09 368.06 L210.45 368.69 L210.81 370.87 L211.18 369.45 L211.54 370.36 L211.91 369.22 L212.27 369.86 L212.64 369.53 L213.00 369.36 L213.36 368.30 L213.73 368.01 L214.09 369.83 L214.46 369.31 L214.82 367.56 L215.19 368.08 L215.55 369.57 L215.91 369.36 L216.28 369.54 L216.64 368.21 L217.01 368.79 L217.37 368.60 L217.74 366.56 L218.10 369.83 L218.46 370.42 L218.83 371.38 L219.19 371.51 L219.56 368.91 L219.92 368.75 L220.29 367.25 L220.65 370.70 L221.01 370.56 L221.38 368.01 L221.74 367.69 L222.11 367.76 L222.47 367.79 L222.84 368.71 L223.20 369.04 L223.56 369.09 L223.93 368.24 L224.29 369.07 L224.66 368.80 L225.02 367.50 L225.39 369.90 L225.75 370.21 L226.11 368.89 L226.48 369.39 L226.84 369.43 L227.21 367.01 L227.57 368.10 L227.94 369.33 L228.30 368.07 L228.66 366.16 L229.03 369.51 L229.39 370.04 L229.76 369.35 L230.12 369.96 L230.49 367.12 L230.85 368.04 L231.21 369.32 L231.58 368.75 L231.94 369.97 L232.31 370.13 L232.67 369.42 L233.04 366.74 L233.40 370.95 L233.76 369.33 L234.13 367.84 L234.49 368.06 L234.86 366.85 L235.22 368.08 L235.59 368.78 L235.95 369.29 L236.31 370.23 L236.68 367.83 L237.04 370.15 L237.41 369.71 L237.77 370.01 L238.14 370.39 L238.50 372.05 L238.86 370.57 L239.23 369.57 L239.59 369.26 L239.96 368.42 L240.32 369.25 L240.69 370.02 L241.05 369.23 L241.41 368.61 L241.78 370.12 L242.14 371.25 L242.51 371.05 L242.87 368.75 L243.24 368.12 L243.60 369.97 L243.96 369.45 L244.33 368.51 L244.69 367.71 L245.06 369.61 L245.42 369.74 L245.79 368.00 L246.15 366.39 L246.51 366.87 L246.88 369.90 L247.24 369.09 L247.61 369.66 L247.97 369.58 L248.34 370.21 L248.70 370.20" fill="none" stroke="#b01010" stroke-width="1.25" stroke-linejoin="round"/>
<line x1="308.6" y1="250.79" x2="308.6" y2="386.4" stroke="#000" stroke-width="1.6"/>
<line x1="305.0" y1="386.4" x2="308.6" y2="386.4" stroke="#000" stroke-width="1.4"/>
<text x="302.0" y="388.95" font-size="8.8" text-anchor="end" textLength="4.3" lengthAdjust="spacingAndGlyphs" fill="#231f20" stroke="#231f20" stroke-width="0.05" >0</text>
<line x1="305.0" y1="341.42999999999995" x2="308.6" y2="341.42999999999995" stroke="#000" stroke-width="1.4"/>
<text x="302.0" y="343.97999999999996" font-size="8.8" text-anchor="end" textLength="8.6" lengthAdjust="spacingAndGlyphs" fill="#231f20" stroke="#231f20" stroke-width="0.05" >10</text>
<line x1="305.0" y1="296.46" x2="308.6" y2="296.46" stroke="#000" stroke-width="1.4"/>
<text x="302.0" y="299.01" font-size="8.8" text-anchor="end" textLength="8.6" lengthAdjust="spacingAndGlyphs" fill="#231f20" stroke="#231f20" stroke-width="0.05" >20</text>
<line x1="305.0" y1="251.48999999999998" x2="308.6" y2="251.48999999999998" stroke="#000" stroke-width="1.4"/>
<text x="302.0" y="254.04" font-size="8.8" text-anchor="end" textLength="8.6" lengthAdjust="spacingAndGlyphs" fill="#231f20" stroke="#231f20" stroke-width="0.05" >30</text>
<line x1="305.0" y1="386.4" x2="511.7" y2="386.4" stroke="#000" stroke-width="1.6"/>
<line x1="366.6" y1="290.5" x2="366.6" y2="259.7" stroke="#14507d" stroke-width="1.4"/>
<line x1="351.8" y1="259.7" x2="381.6" y2="259.7" stroke="#14507d" stroke-width="1.5"/>
<rect x="337.7" y="290.2" width="58.1" height="95.60" fill="#14507d"/>
<rect x="438.8" y="368.9" width="29.4" height="2.4" fill="#d22a4a"/>
<line x1="453.5" y1="368.9" x2="453.5" y2="371.2" stroke="#e86a80" stroke-width="0.6"/>
<rect x="425" y="371.0" width="57.2" height="14.80" fill="#c5142f"/>
<polygon points="453.60,359.20 454.25,360.51 455.69,360.72 454.65,361.74 454.89,363.18 453.60,362.50 452.31,363.18 452.55,361.74 451.51,360.72 452.95,360.51" fill="#000"/>
<text transform="translate(283.2,320.2) rotate(-90)" font-size="9.7" text-anchor="middle" textLength="40.2" lengthAdjust="spacingAndGlyphs" fill="#231f20" stroke="#231f20" stroke-width="0.18">Platelet AUC</text>
<text x="365.6" y="398.3" font-size="7.8" text-anchor="middle" textLength="21" lengthAdjust="spacingAndGlyphs" fill="#231f20" stroke="#231f20" stroke-width="0.18" >Saline</text>
<text x="454.2" y="398.3" font-size="7.8" text-anchor="middle" textLength="17.8" lengthAdjust="spacingAndGlyphs" fill="#231f20" stroke="#231f20" stroke-width="0.18" >P-G6</text>
<defs>
<filter id="b05" x="-50%" y="-50%" width="200%" height="200%"><feGaussianBlur stdDeviation="0.6"/></filter>
<filter id="b1" x="-50%" y="-50%" width="200%" height="200%"><feGaussianBlur stdDeviation="1.1"/></filter>
<filter id="b2" x="-50%" y="-50%" width="200%" height="200%"><feGaussianBlur stdDeviation="2.2"/></filter>
<filter id="b3" x="-50%" y="-50%" width="200%" height="200%"><feGaussianBlur stdDeviation="3.2"/></filter>
<filter id="b4" x="-50%" y="-50%" width="200%" height="200%"><feGaussianBlur stdDeviation="4.5"/></filter>
<filter id="dic" x="0" y="0" width="100%" height="100%">
  <feTurbulence type="fractalNoise" baseFrequency="0.06 0.45" numOctaves="2" seed="3" result="n"/>
  <feColorMatrix type="matrix" values="0.5 0.5 0 0 0  0.5 0.5 0 0 0  0.5 0.5 0 0 0  0 0 0 0 1"/>
</filter>
<filter id="grn" x="0" y="0" width="100%" height="100%" color-interpolation-filters="sRGB">
  <feTurbulence type="fractalNoise" baseFrequency="0.3 0.22" numOctaves="2" seed="5"/>
  <feColorMatrix type="matrix" values="0 0 0 0 0  0 0 0 0 0.55  0 0 0 0 0  1.6 0 0 0 -0.55"/>
</filter>
<filter id="dicE" x="0" y="0" width="100%" height="100%" color-interpolation-filters="sRGB">
  <feTurbulence type="fractalNoise" baseFrequency="0.1 0.45" numOctaves="3" seed="11"/>
  <feColorMatrix type="matrix" values="0.6 0 0 0 0.11  0.6 0 0 0 0.14  0.6 0 0 0 0.10  0 0 0 0 1"/>
</filter>
<filter id="dicF" x="0" y="0" width="100%" height="100%" color-interpolation-filters="sRGB">
  <feTurbulence type="fractalNoise" baseFrequency="0.12 0.55" numOctaves="3" seed="4"/>
  <feColorMatrix type="matrix" values="1.1 0 0 0 -0.05  1.1 0 0 0 -0.03  1.1 0 0 0 -0.06  0 0 0 0 1"/>
</filter>
<filter id="irr" x="-10%" y="-10%" width="120%" height="120%" color-interpolation-filters="sRGB">
  <feTurbulence type="fractalNoise" baseFrequency="0.18" numOctaves="2" seed="8" result="t"/>
  <feDisplacementMap in="SourceGraphic" in2="t" scale="5" xChannelSelector="R" yChannelSelector="G"/>
  <feGaussianBlur stdDeviation="0.6"/>
</filter>
<clipPath id="cE1"><rect x="34.1" y="433.6" width="73.5" height="78.1"/></clipPath>
<clipPath id="cE2"><rect x="109.1" y="433.6" width="74" height="78.1"/></clipPath>
<clipPath id="cE3"><rect x="184.1" y="433.4" width="73.1" height="78.3"/></clipPath>
<clipPath id="cF1"><rect x="294.1" y="432.6" width="73.5" height="78.9"/></clipPath>
<clipPath id="cF2"><rect x="369.0" y="432.6" width="73.6" height="78.9"/></clipPath>
<clipPath id="cF3"><rect x="443.6" y="432.6" width="73.8" height="78.9"/></clipPath>
</defs>
<rect x="107.4" y="433.6" width="2" height="78.1" fill="#b8bcb8"/>
<rect x="182.6" y="433.6" width="2" height="78.1" fill="#c0c4c0"/>
<rect x="367.4" y="432.6" width="2" height="78.9" fill="#a8aca8"/>
<rect x="442.2" y="432.6" width="2" height="78.9" fill="#b0b4b0"/>
<g clip-path="url(#cE1)">
<rect x="34" y="434" width="74" height="78" fill="#031e03"/>
<rect x="34" y="434" width="74" height="78" filter="url(#grn)" opacity="0.22"/>
<rect x="28" y="434" width="10" height="78" fill="#000" opacity="0.85" filter="url(#b2)"/>
<rect x="34" y="433" width="74" height="2" fill="#000" opacity="0.8"/>
<rect x="58" y="458" width="6" height="40" fill="#0b3a0b" opacity="0.5" filter="url(#b2)"/>
<rect x="100" y="434" width="10" height="78" fill="#000" opacity="0.4" filter="url(#b3)"/>
<ellipse cx="40.5" cy="458.5" rx="1.8" ry="1.3" fill="#0a5a0a" opacity="0.8" filter="url(#b1)"/>
<ellipse cx="67.3" cy="442.7" rx="7.0" ry="8.4" fill="#0c9a0c" opacity="0.7" filter="url(#b3)" transform="rotate(10 67.3 442.7)"/>
<ellipse cx="67.3" cy="442.7" rx="4.0" ry="5.4" fill="#1cf51c" opacity="1" filter="url(#b1)" transform="rotate(10 67.3 442.7)"/>
<ellipse cx="74.8" cy="454.4" rx="6.800000000000001" ry="8.8" fill="#0c9a0c" opacity="0.7" filter="url(#b3)" transform="rotate(15 74.8 454.4)"/>
<ellipse cx="74.8" cy="454.4" rx="3.6" ry="5.6" fill="#18e018" opacity="1" filter="url(#b1)" transform="rotate(15 74.8 454.4)"/>
<ellipse cx="63.4" cy="499.4" rx="7.0" ry="7.6" fill="#0c9a0c" opacity="0.7" filter="url(#b3)"/>
<ellipse cx="63.4" cy="499.4" rx="3.6" ry="4.2" fill="#18e818" opacity="1" filter="url(#b1)"/>
</g>
<g clip-path="url(#cE2)">
<rect x="108.9" y="434" width="74" height="78" fill="#010000"/>
<ellipse cx="143.9" cy="439.5" rx="2.6" ry="2.6" fill="#8a0000" opacity="0.85" filter="url(#b1)"/>
<ellipse cx="151.5" cy="448.3" rx="2.6" ry="2.6" fill="#900000" opacity="0.85" filter="url(#b1)"/>
<ellipse cx="168.2" cy="440.3" rx="1.5" ry="1.8" fill="#5a0000" opacity="0.8" filter="url(#b1)"/>
<ellipse cx="134.4" cy="459.4" rx="0.9" ry="0.9" fill="#3a0000" opacity="0.8" filter="url(#b05)"/>
</g>
<g clip-path="url(#cE3)">
<rect x="183" y="433" width="76" height="80" fill="#56664f"/>
<g transform="rotate(22 221 473)"><rect x="160" y="410" width="120" height="130" filter="url(#dicE)"/></g>
<rect x="183" y="433" width="76" height="80" fill="#0a6a1a" opacity="0.1"/>
<rect x="210" y="433" width="32" height="80" fill="#323c2c" opacity="0.75" filter="url(#b3)"/>
<rect x="206.8" y="433" width="2.6" height="80" fill="#1a8a2a" opacity="0.45" filter="url(#b1)"/>
<path d="M246 433 L240 512 L242.8 512 L248.8 433 Z" fill="#1a7a2a" opacity="0.45" filter="url(#b1)"/>
<rect x="245" y="433" width="15" height="80" fill="#a8b8a8" opacity="0.4" filter="url(#b2)"/>
<rect x="212" y="460" width="20" height="50" fill="#4a2010" opacity="0.12" filter="url(#b3)"/>
<ellipse cx="216.3" cy="442.3" rx="7.4" ry="8.8" fill="#0c9a0c" opacity="0.6" filter="url(#b3)" transform="rotate(10 216.3 442.3)"/>
<ellipse cx="216.3" cy="442.3" rx="4.8" ry="6.2" fill="#1cf51c" opacity="1" filter="url(#b1)" transform="rotate(10 216.3 442.3)"/>
<ellipse cx="225.2" cy="454.2" rx="6.9" ry="9.2" fill="#0c9a0c" opacity="0.6" filter="url(#b3)" transform="rotate(15 225.2 454.2)"/>
<ellipse cx="225.2" cy="454.2" rx="4.3" ry="6.6" fill="#18e818" opacity="1" filter="url(#b1)" transform="rotate(15 225.2 454.2)"/>
<ellipse cx="213.3" cy="499.8" rx="7.2" ry="7.8" fill="#0c9a0c" opacity="0.6" filter="url(#b3)"/>
<ellipse cx="213.3" cy="499.8" rx="4.2" ry="4.8" fill="#18e818" opacity="1" filter="url(#b1)"/>
<ellipse cx="226" cy="447.5" rx="1.5" ry="1.5" fill="#c08020" opacity="0.6" filter="url(#b05)"/>
<line x1="185.6" y1="498.6" x2="192.7" y2="498.6" stroke="#fff" stroke-width="1"/>
<text x="187" y="508.3" font-size="7" text-anchor="start" textLength="17" lengthAdjust="spacingAndGlyphs" fill="#fff" stroke="#fff" stroke-width="0.18" >10 um</text>
</g>
<g clip-path="url(#cF1)">
<rect x="294" y="433" width="75" height="80" fill="#000"/>
<rect x="308" y="436" width="46" height="74" fill="#0b4a0b" opacity="0.45" filter="url(#b4)"/>
<rect x="306" y="433" width="50" height="80" filter="url(#grn)" opacity="0.15"/>
<rect x="294.2" y="433" width="1" height="80" fill="#5a5a5a" opacity="0.7"/>
<ellipse cx="322.7" cy="449.9" rx="8.8" ry="9.4" fill="#0c9a0c" opacity="0.75" filter="url(#b3)" transform="rotate(10 322.7 449.9)"/>
<ellipse cx="322.7" cy="449.9" rx="5.2" ry="5.8" fill="#1cf51c" opacity="1" filter="url(#b1)" transform="rotate(10 322.7 449.9)"/>
<ellipse cx="342.6" cy="449.5" rx="8.8" ry="9.2" fill="#0c9a0c" opacity="0.75" filter="url(#b3)"/>
<ellipse cx="342.6" cy="449.5" rx="5.2" ry="5.6" fill="#1cf51c" opacity="1" filter="url(#b1)"/>
<ellipse cx="322" cy="475.7" rx="9.0" ry="9.5" fill="#0c9a0c" opacity="0.75" filter="url(#b3)"/>
<ellipse cx="322" cy="475.7" rx="5.4" ry="5.9" fill="#1cf51c" opacity="1" filter="url(#b1)"/>
<ellipse cx="344.8" cy="477.9" rx="7.800000000000001" ry="9.4" fill="#0c9a0c" opacity="0.75" filter="url(#b3)"/>
<ellipse cx="344.8" cy="477.9" rx="4.2" ry="5.8" fill="#14c814" opacity="1" filter="url(#b1)"/>
<ellipse cx="330.1" cy="502.2" rx="10.6" ry="8.8" fill="#0c9a0c" opacity="0.75" filter="url(#b3)" transform="rotate(-25 330.1 502.2)"/>
<ellipse cx="330.1" cy="502.2" rx="7.0" ry="5.2" fill="#1cf51c" opacity="1" filter="url(#b1)" transform="rotate(-25 330.1 502.2)"/>
<ellipse cx="321" cy="459" rx="2" ry="2" fill="#0c8a0c" opacity="0.7" filter="url(#b1)"/>
</g>
<g clip-path="url(#cF2)">
<rect x="369" y="432" width="75" height="81" fill="#000"/>
<rect x="390" y="436" width="37" height="74" fill="#700000" opacity="0.6" filter="url(#b4)"/>
<g filter="url(#irr)">
<ellipse cx="397.8" cy="450" rx="9.8" ry="11.8" fill="#b00000" opacity="0.55" filter="url(#b3)" transform="rotate(10 397.8 450)"/>
<ellipse cx="397.8" cy="450" rx="7.3" ry="9.3" fill="#ff1414" opacity="1" filter="url(#b1)" transform="rotate(10 397.8 450)"/>
<ellipse cx="416.2" cy="446.3" rx="7.1" ry="12.3" fill="#b00000" opacity="0.55" filter="url(#b3)"/>
<ellipse cx="416.2" cy="446.3" rx="4.6" ry="9.8" fill="#ff1414" opacity="1" filter="url(#b1)"/>
<ellipse cx="398.5" cy="474.3" rx="9.7" ry="9.3" fill="#b00000" opacity="0.55" filter="url(#b3)"/>
<ellipse cx="398.5" cy="474.3" rx="7.2" ry="6.8" fill="#ff1414" opacity="1" filter="url(#b1)"/>
<ellipse cx="419.3" cy="466" rx="5.7" ry="8.7" fill="#b00000" opacity="0.385" filter="url(#b3)"/>
<ellipse cx="419.3" cy="466" rx="3.2" ry="6.2" fill="#ff1414" opacity="0.7" filter="url(#b1)"/>
<ellipse cx="419.3" cy="478" rx="5.7" ry="7.7" fill="#b00000" opacity="0.385" filter="url(#b3)"/>
<ellipse cx="419.3" cy="478" rx="3.2" ry="5.2" fill="#ff1414" opacity="0.7" filter="url(#b1)"/>
<ellipse cx="404" cy="502.3" rx="11.3" ry="9.3" fill="#b00000" opacity="0.55" filter="url(#b3)" transform="rotate(-25 404 502.3)"/>
<ellipse cx="404" cy="502.3" rx="8.8" ry="6.8" fill="#ff1414" opacity="1" filter="url(#b1)" transform="rotate(-25 404 502.3)"/>
<ellipse cx="407.5" cy="459" rx="5.5" ry="7.0" fill="#b00000" opacity="0.30250000000000005" filter="url(#b3)"/>
<ellipse cx="407.5" cy="459" rx="3" ry="4.5" fill="#ff1414" opacity="0.55" filter="url(#b1)"/>
<ellipse cx="406" cy="488" rx="5.5" ry="7.5" fill="#b00000" opacity="0.275" filter="url(#b3)"/>
<ellipse cx="406" cy="488" rx="3" ry="5" fill="#ff1414" opacity="0.5" filter="url(#b1)"/>
<ellipse cx="417" cy="500" rx="5.5" ry="8.0" fill="#b00000" opacity="0.275" filter="url(#b3)"/>
<ellipse cx="417" cy="500" rx="3" ry="5.5" fill="#ff1414" opacity="0.5" filter="url(#b1)"/>
<ellipse cx="406" cy="439" rx="6.0" ry="6.0" fill="#b00000" opacity="0.24750000000000003" filter="url(#b3)"/>
<ellipse cx="406" cy="439" rx="3.5" ry="3.5" fill="#ff1414" opacity="0.45" filter="url(#b1)"/>
</g>
<ellipse cx="404.5" cy="452" rx="1.6" ry="3" fill="#200000" opacity="0.5" filter="url(#b1)"/>
</g>
<defs>
<linearGradient id="gY1" x1="0" y1="0" x2="1" y2="1"><stop offset="0" stop-color="#ff6a18"/><stop offset="0.3" stop-color="#ffe030"/><stop offset="0.7" stop-color="#fafa38"/><stop offset="1" stop-color="#e8f030"/></linearGradient>
<linearGradient id="gY2" x1="0" y1="0" x2="1" y2="0.2"><stop offset="0" stop-color="#ffb020"/><stop offset="0.3" stop-color="#f4f030"/><stop offset="0.6" stop-color="#c0f020"/><stop offset="1" stop-color="#30d820"/></linearGradient>
<linearGradient id="gG3" x1="1" y1="0" x2="0" y2="1"><stop offset="0" stop-color="#ff9020"/><stop offset="0.3" stop-color="#e8f030"/><stop offset="0.55" stop-color="#50e020"/><stop offset="1" stop-color="#20d020"/></linearGradient>
<linearGradient id="gG5" x1="0" y1="0.5" x2="1" y2="0.5"><stop offset="0" stop-color="#ff3010"/><stop offset="0.3" stop-color="#ffa020"/><stop offset="0.5" stop-color="#f0f030"/><stop offset="0.75" stop-color="#40e020"/><stop offset="1" stop-color="#20d820"/></linearGradient>
</defs>
<g clip-path="url(#cF3)">
<rect x="443" y="432" width="76" height="81" fill="#969a94"/>
<g transform="rotate(-15 480 472)"><rect x="420" y="410" width="120" height="130" filter="url(#dicF)" opacity="0.8"/></g>
<path d="M440 459 L520 446 L520 457 L440 470 Z" fill="#101410" opacity="0.75" filter="url(#b1)"/>
<path d="M440 482 L520 475 L520 482 L440 492 Z" fill="#101410" opacity="0.6" filter="url(#b1)"/>
<rect x="465" y="432" width="34" height="81" fill="#1a2a14" opacity="0.45" filter="url(#b3)"/>
<ellipse cx="483" cy="460" rx="4.5" ry="6" fill="#d01010" opacity="0.75" filter="url(#b2)"/>
<ellipse cx="491.6" cy="438.9" rx="3.5" ry="5" fill="#e01010" opacity="0.85" filter="url(#b2)"/>
<ellipse cx="494.5" cy="465.4" rx="2" ry="3" fill="#e06010" opacity="0.7" filter="url(#b2)"/>
<ellipse cx="478" cy="488" rx="3" ry="3" fill="#a01010" opacity="0.5" filter="url(#b2)"/>
<ellipse cx="470" cy="440" rx="4" ry="3" fill="#d03010" opacity="0.6" filter="url(#b2)"/>
<ellipse cx="482" cy="442" rx="2.5" ry="4" fill="#c02010" opacity="0.5" filter="url(#b2)"/>
<ellipse cx="489" cy="490" rx="3" ry="4" fill="#902010" opacity="0.4" filter="url(#b2)"/>
<ellipse cx="473.2" cy="449.2" rx="8.5" ry="9" fill="#c04010" opacity="0.55" filter="url(#b3)"/>
<ellipse cx="492.3" cy="449.9" rx="8" ry="8" fill="#40a010" opacity="0.55" filter="url(#b3)"/>
<ellipse cx="471.7" cy="475.7" rx="8.5" ry="8.5" fill="#20a010" opacity="0.55" filter="url(#b3)"/>
<ellipse cx="494.5" cy="476.4" rx="5.5" ry="6" fill="#20a010" opacity="0.55" filter="url(#b3)"/>
<ellipse cx="479.1" cy="501.5" rx="10" ry="7.5" fill="#806010" opacity="0.55" filter="url(#b3)" transform="rotate(-25 479.1 501.5)"/>
<ellipse cx="473.2" cy="449.2" rx="6.3" ry="6.8" fill="url(#gY1)" filter="url(#b1)"/>
<ellipse cx="492.3" cy="449.9" rx="6.0" ry="6.2" fill="url(#gY2)" filter="url(#b1)"/>
<ellipse cx="471.7" cy="475.7" rx="6.3" ry="6.4" fill="url(#gG3)" filter="url(#b1)"/>
<ellipse cx="494.5" cy="476.4" rx="3.4" ry="4" fill="#f0f030" opacity="1" filter="url(#b1)"/>
<ellipse cx="479.1" cy="501.5" rx="7.8" ry="5.6" fill="url(#gG5)" filter="url(#b1)" transform="rotate(-25 479.1 501.5)"/>
<line x1="446.2" y1="497.4" x2="454" y2="497.4" stroke="#fff" stroke-width="1"/>
<text x="447.4" y="506.8" font-size="7" text-anchor="start" textLength="19.2" lengthAdjust="spacingAndGlyphs" fill="#fff" stroke="#fff" stroke-width="0.1" >10 um</text>
</g>
<text x="45.7" y="523.3" font-size="8.6" text-anchor="start" textLength="49.7" lengthAdjust="spacingAndGlyphs" fill="#231f20" stroke="#231f20" stroke-width="0.18" >Neutrophils</text>
<text x="125.9" y="523.3" font-size="8.6" text-anchor="start" textLength="36.4" lengthAdjust="spacingAndGlyphs" fill="#231f20" stroke="#231f20" stroke-width="0.18" >Platelets</text>
<text x="210.7" y="523.3" font-size="8.6" text-anchor="start" textLength="27.8" lengthAdjust="spacingAndGlyphs" fill="#231f20" stroke="#231f20" stroke-width="0.18" >Merge</text>
<text x="303.9" y="523.3" font-size="8.6" text-anchor="start" textLength="50.5" lengthAdjust="spacingAndGlyphs" fill="#231f20" stroke="#231f20" stroke-width="0.18" >Neutrophils</text>
<text x="384.7" y="523.3" font-size="8.6" text-anchor="start" textLength="36.3" lengthAdjust="spacingAndGlyphs" fill="#231f20" stroke="#231f20" stroke-width="0.18" >Platelets</text>
<text x="468.7" y="523.3" font-size="8.6" text-anchor="start" textLength="28.3" lengthAdjust="spacingAndGlyphs" fill="#231f20" stroke="#231f20" stroke-width="0.18" >Merge</text>
<rect x="0.7" y="0.7" width="518.6" height="534.6" fill="none" stroke="#000" stroke-width="1.4"/>
</svg>
</body></html>
